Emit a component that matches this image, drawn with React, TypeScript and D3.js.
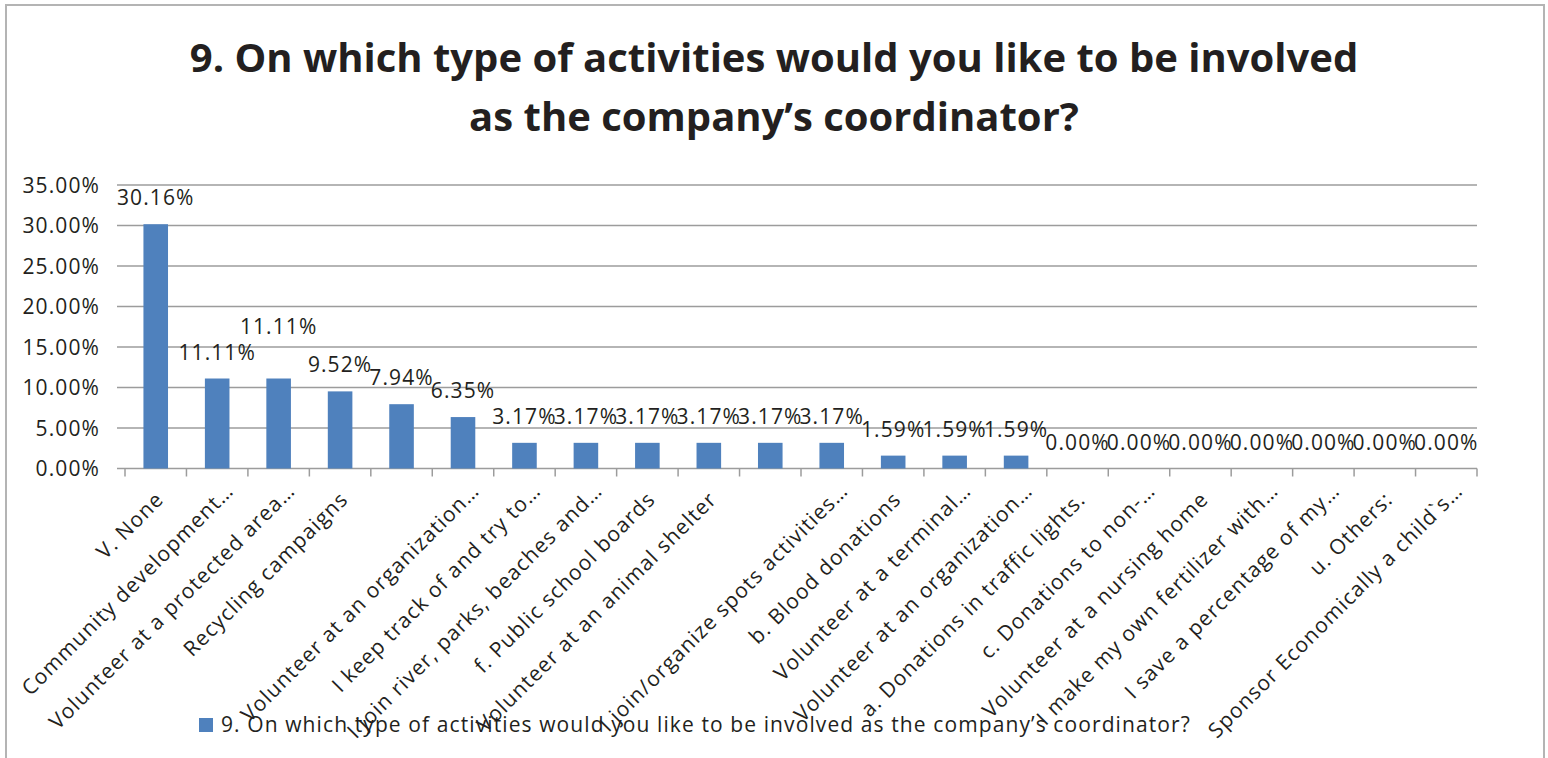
import React from "react";
import * as d3 from "d3";

const categories: string[] = [
  "V. None",
  "Community development…",
  "Volunteer at a protected area…",
  "Recycling campaigns",
  "",
  "Volunteer at an organization…",
  "I keep track of and try to…",
  "I join river, parks, beaches and…",
  "f. Public school boards",
  "Volunteer at an animal shelter",
  "",
  "I join/organize spots activities…",
  "b. Blood donations",
  "Volunteer at a terminal…",
  "Volunteer at an organization…",
  "a. Donations in traffic lights.",
  "c. Donations to non-…",
  "Volunteer at a nursing home",
  "I make my own fertilizer with…",
  "I save a percentage of my…",
  "u. Others:",
  "Sponsor Economically a child`s…",
];

const values: number[] = [
  30.16, 11.11, 11.11, 9.52, 7.94, 6.35, 3.17, 3.17, 3.17, 3.17, 3.17, 3.17,
  1.59, 1.59, 1.59, 0, 0, 0, 0, 0, 0, 0,
];

const yTicks: number[] = [0, 5, 10, 15, 20, 25, 30, 35];

const titleLines: string[] = [
  "9. On which type of activities would you like to be involved",
  "as the company’s coordinator?",
];
const seriesName =
  "9. On which type of activities would you like to be involved as the company’s coordinator?";

// labels that Excel pushed upward to avoid collisions
const liftedLabels: number[] = [2];

const W = 1548;
const H = 758;
const FONT = "'Open Sans', 'Liberation Sans', sans-serif";
const TEXT = "#231f20";
const BAR = "#4f81bd";
const GRID = "#9c9c9c";
const FS = 21;
const LS = 1.1;

export default function App() {
  const left = 125;
  const right = 1477;
  const top = 185;
  const bottom = 468.5;

  const idx = categories.map((_, i) => i);
  const slot = d3.scaleBand<number>().domain(idx).range([left, right]).padding(0);
  const step = slot.step();
  const barW = step * 0.4;
  const y = d3.scaleLinear().domain([0, 35]).range([bottom, top]);
  const fmt = d3.format(".2f");

  return (
    <svg
      width={W}
      height={H}
      style={{ position: "absolute", left: 0, top: 0, background: "#fff" }}
      fontFamily={FONT}
    >
      <rect x={6} y={5} width={1538} height={800} fill="#fff" stroke="#b4b4b4" strokeWidth={2} />

      {titleLines.map((t, i) => (
        <text
          key={i}
          x={774}
          y={72 + i * 59}
          textAnchor="middle"
          fontSize={40}
          fontWeight={700}
          fill={TEXT}
        >
          {t}
        </text>
      ))}

      {/* gridlines + y ticks */}
      {yTicks.map((t) => (
        <g key={t}>
          <line x1={left - 8} x2={right} y1={y(t)} y2={y(t)} stroke={GRID} strokeWidth={1.5} />
          <text
            x={100}
            y={y(t)}
            dy="0.36em"
            textAnchor="end"
            fontSize={FS}
            letterSpacing={LS}
            fill={TEXT}
          >
            {fmt(t) + "%"}
          </text>
        </g>
      ))}

      {/* x ticks */}
      {[...idx, categories.length].map((i) => {
        const xx = i < categories.length ? (slot(i) as number) : right;
        return <line key={i} x1={xx} x2={xx} y1={bottom} y2={bottom + 8} stroke={GRID} strokeWidth={1.5} />;
      })}

      {/* bars */}
      {values.map((v, i) => {
        const cx = (slot(i) as number) + step / 2;
        return (
          <rect
            key={i}
            x={cx - barW / 2}
            y={y(v)}
            width={barW}
            height={bottom - y(v)}
            fill={BAR}
          />
        );
      })}

      {/* value labels */}
      {values.map((v, i) => {
        const cx = (slot(i) as number) + step / 2;
        const lift = liftedLabels.includes(i) ? 26 : 0;
        return (
          <text
            key={i}
            x={cx}
            y={y(v) - 19 - lift}
            textAnchor="middle"
            fontSize={FS}
            letterSpacing={LS}
            fill={TEXT}
          >
            {fmt(v) + "%"}
          </text>
        );
      })}

      {/* category labels */}
      {categories.map((c, i) => {
        const cx = (slot(i) as number) + step / 2;
        const extra = c.endsWith("…") ? 12 : 0;
        return (
          <text
            key={i}
            transform={`translate(${cx + 4},${bottom + 27}) rotate(-45)`}
            x={extra}
            textAnchor="end"
            dy="0.35em"
            fontSize={FS}
            letterSpacing={LS}
            fill={TEXT}
          >
            {c}
          </text>
        );
      })}

      {/* legend */}
      <rect x={199} y={718} width={14} height={14} fill={BAR} />
      <text x={221} y={732} fontSize={FS} letterSpacing={LS} fill={TEXT}>
        {seriesName}
      </text>
    </svg>
  );
}
